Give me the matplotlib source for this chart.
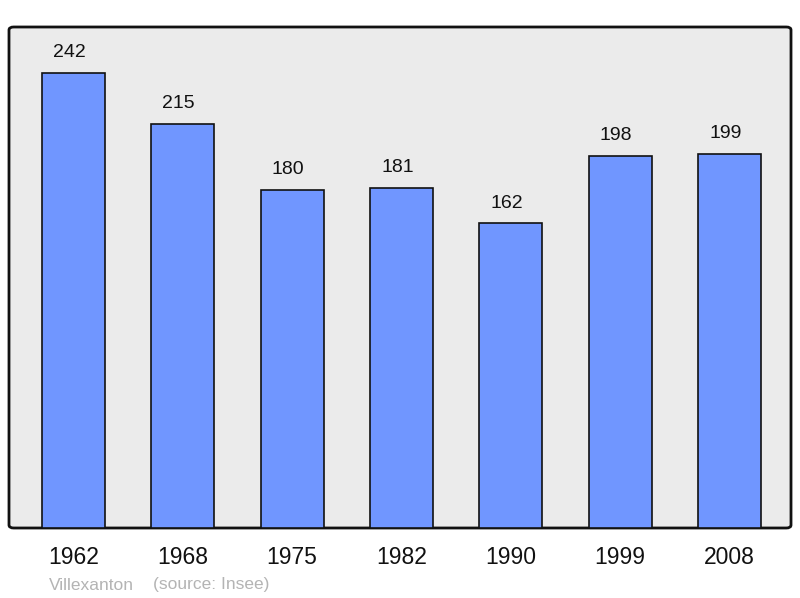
import matplotlib
matplotlib.use("Agg")
import matplotlib.pyplot as plt
from matplotlib.patches import FancyBboxPatch

plt.rcParams["font.family"] = ["Liberation Sans", "DejaVu Sans"]

years = ["1962", "1968", "1975", "1982", "1990", "1999", "2008"]
population = [242, 215, 180, 181, 162, 198, 199]
commune = "Villexanton"
source = "(source: Insee)"

fig = plt.figure(figsize=(8, 5.98), dpi=100)
ax = fig.add_axes([9 / 800, 70 / 598, 782 / 800, 501 / 598])
ax.set_facecolor("none")

# rounded background frame
frame = FancyBboxPatch((0, 0), 1, 1, boxstyle="round,pad=0,rounding_size=0.006",
                       transform=ax.transAxes, facecolor="#ebebeb",
                       edgecolor="#111111", linewidth=2, zorder=0, clip_on=False)
ax.add_patch(frame)

x = list(range(len(years)))
bars = ax.bar(x, population, width=0.578, color="#7096ff",
              edgecolor="#111111", linewidth=1.2, zorder=2)
for xi, v in zip(x, population):
    ax.annotate(str(v), (xi, v), xytext=(-3, 8.5), textcoords="offset points",
                ha="center", va="bottom", fontsize=14, color="#111111")

ax.set_xlim(-0.59, 6.5625)
ax.set_ylim(0, 266.5)
ax.set_xticks(x)
ax.set_xticklabels(years, fontsize=16.5, color="#111111")
ax.tick_params(axis="x", length=0, pad=13)
ax.set_yticks([])
for s in ax.spines.values():
    s.set_visible(False)

fig.text(49 / 800, 1 - 585 / 598, commune, fontsize=12.5, color="#b4b4b4",
         ha="left", va="center")
fig.text(153 / 800, 1 - 585 / 598, source, fontsize=12.5, color="#b4b4b4",
         ha="left", va="center")

fig.savefig("out.png", dpi=100)
